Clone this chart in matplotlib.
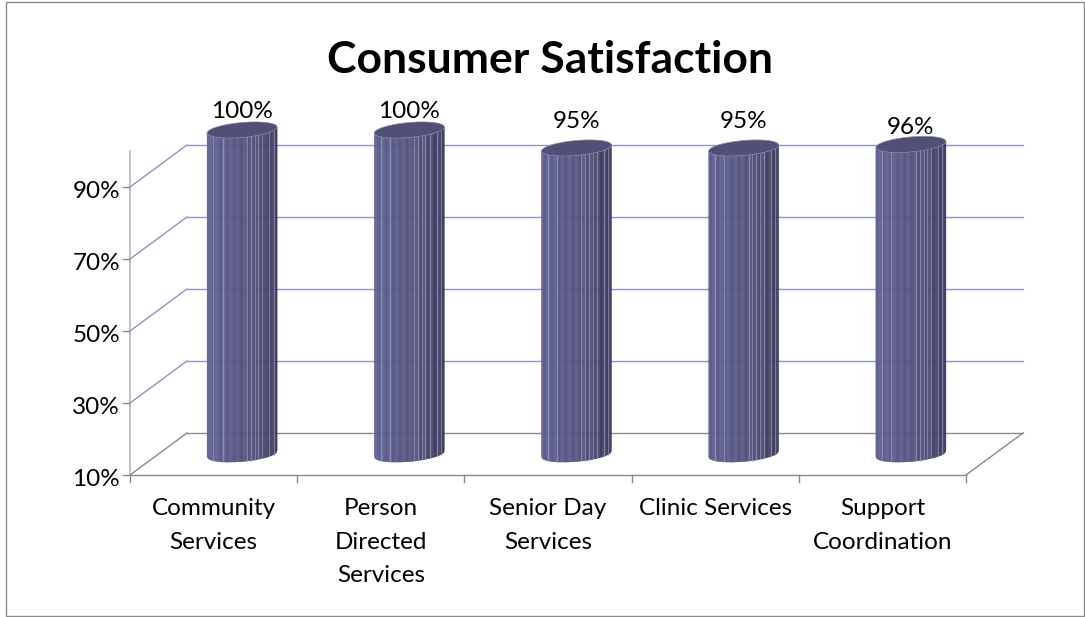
import numpy as np
import matplotlib
matplotlib.use("Agg")
import matplotlib.pyplot as plt
from matplotlib.patches import Polygon, Rectangle
from matplotlib.transforms import Affine2D

categories = ["Community\nServices", "Person\nDirected\nServices", "Senior Day\nServices",
              "Clinic Services", "Support\nCoordination"]
values = [100, 100, 95, 95, 96]
value_labels = ["100%", "100%", "95%", "95%", "96%"]
y_ticks = [10, 30, 50, 70, 90]
y_tick_labels = ["10%", "30%", "50%", "70%", "90%"]

W, H = 1085, 617
plt.rcParams['font.family'] = ['Lato', 'DejaVu Sans']
fig = plt.figure(figsize=(W/100, H/100), dpi=100)
fig.patch.set_facecolor('white')
fig.add_artist(Rectangle((6/W, 1-616/H), 1078/W, 614.5/H, transform=fig.transFigure,
                         fill=False, ec='#8a8a8a', lw=1.0))

# front plane of the 3D box
L, R, T, B = 130, 966, 151, 475
ax = fig.add_axes([L/W, 1-B/H, (R-L)/W, (B-T)/H])
ax.set_xlim(-0.5, 4.5)
ax.set_ylim(10, 100)
ax.axis('off')

DX, DY = 57, 42   # depth of the box, in pixels
def shifted(f):
    return ax.transData + Affine2D().translate(DX*f, DY*f)
back = shifted(1.0)
mid = shifted(0.5)

GRID = '#9494c0'
FLOOR = '#8a8a8a'
x0, x1 = -0.5, 4.5
for i, v in enumerate(y_ticks):
    c = FLOOR if i == 0 else GRID
    ax.plot([x0, x1], [v, v], transform=back, color=c, lw=1.0, clip_on=False, zorder=1)
    p0 = ax.transData.transform((x0, v))
    ax.plot([p0[0], p0[0]+DX], [p0[1], p0[1]+DY], transform=None, color=c, lw=1.0,
            clip_on=False, zorder=1)
p0 = ax.transData.transform((x1, 10))
ax.plot([p0[0], p0[0]+DX], [p0[1], p0[1]+DY], transform=None, color=FLOOR, lw=1.0,
        clip_on=False, zorder=1)
ax.plot([x0, x1], [10, 10], color=FLOOR, lw=1.0, clip_on=False, zorder=1)
ax.plot([x0, x0], [10, 100], color='#b5b5b5', lw=1.2, clip_on=False, zorder=1)

# ticks
tick_px = 7
for v, s in zip(y_ticks, y_tick_labels):
    p = ax.transData.transform((x0, v))
    ax.plot([p[0]-tick_px, p[0]], [p[1], p[1]], transform=None, color='#8a8a8a', lw=1, clip_on=False)
    ax.annotate(s, (x0, v), xytext=(-10, -4), textcoords='offset pixels', ha='right', va='center',
                fontsize=17.5, color='black', annotation_clip=False)
for k in range(6):
    p = ax.transData.transform((x0+k, 10))
    ax.plot([p[0], p[0]], [p[1], p[1]-tick_px], transform=None, color='#8a8a8a', lw=1, clip_on=False)

# cylinders
A, Bm, TILT = 35, 7.5, 3.0
FRACS = [.09, .22, .57, .625, .68, .73, .79, .89, .95]
LABEL_GAP = [0, 0, 8, 8, -1]
def shade(u):
    left = np.array([94, 94, 146])
    midc = np.array([84, 84, 128])
    right = np.array([56, 56, 86])
    return (left + (midc-left)*u/0.5 if u < 0.5 else midc + (right-midc)*(u-0.5)/0.5)/255

for i, v in enumerate(values):
    base = mid.transform((i, 10))
    top = mid.transform((i, v))
    cx = base[0]
    def edge(u, yc):
        xx = (2*u-1)
        return cx + A*xx, yc - Bm*np.sqrt(max(1-xx*xx, 0)) + TILT*xx
    us = np.linspace(0, 1, 61)
    for u0, u1 in zip(us[:-1], us[1:]):
        pts = [edge(u0, base[1]), edge(u1, base[1]), edge(u1, top[1]), edge(u0, top[1])]
        col = shade((u0+u1)/2)
        ax.add_patch(Polygon(pts, closed=True, fc=col, ec=col, lw=0.3, transform=None,
                             clip_on=False, zorder=3))
    for u in FRACS:
        a, b = edge(u, base[1]), edge(u, top[1])
        ax.plot([a[0], b[0]], [a[1], b[1]], transform=None, color='#a4a4cc', lw=0.9, alpha=0.6,
                clip_on=False, zorder=4)
    t = np.linspace(0, 2*np.pi, 120)
    ell = np.c_[cx + A*np.cos(t), top[1] + Bm*np.sin(t) + TILT*np.cos(t)]
    ax.add_patch(Polygon(ell, closed=True, fc='#4f4f78', ec='#8a8aa8', lw=0.5, transform=None,
                         clip_on=False, zorder=5))
    ax.annotate(value_labels[i], (cx, top[1]+Bm+LABEL_GAP[i]), xycoords='figure pixels', ha='center',
                va='bottom', fontsize=17.5, color='black', annotation_clip=False, zorder=6)

# category labels
for i, s in enumerate(categories):
    ax.annotate(s, (i, 10), xytext=(0, -23), textcoords='offset pixels', ha='center', va='top',
                fontsize=17.5, color='black', linespacing=1.75, annotation_clip=False)

fig.text(550/W, 1-60/H, "Consumer Satisfaction", ha='center', va='center', fontsize=32,
         fontweight='bold', color='black')
fig.savefig('out.png', dpi=100)
